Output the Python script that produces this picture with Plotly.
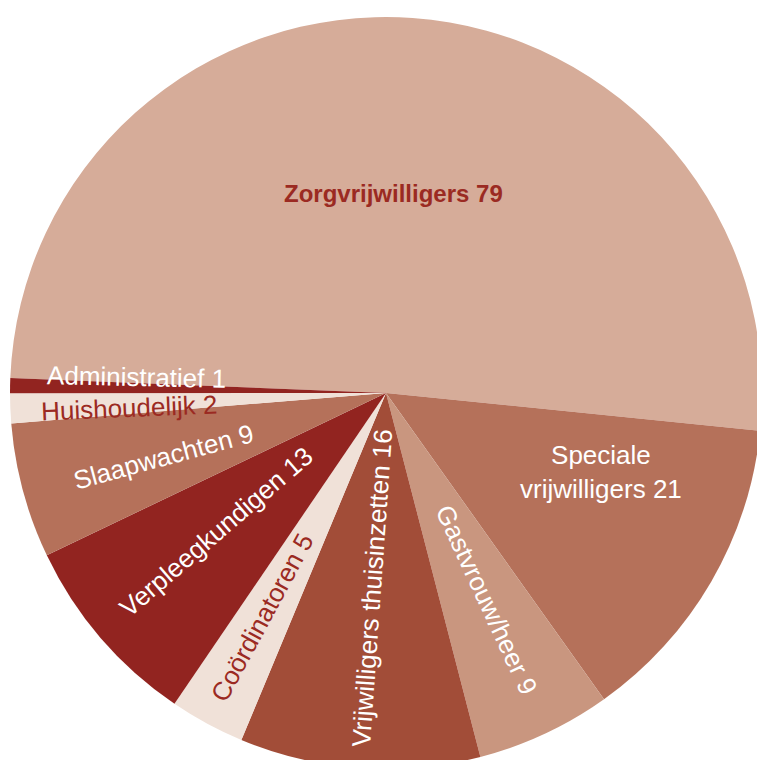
import math
import plotly.graph_objects as go

labels = ["Zorgvrijwilligers", "Speciale<br>vrijwilligers", "Gastvrouw/heer",
          "Vrijwilligers thuisinzetten", "Coördinatoren", "Verpleegkundigen",
          "Slaapwachten", "Huishoudelijk", "Administratief"]
values = [79, 21, 9, 16, 5, 13, 9, 2, 1]

# styles
colors = ["#D6AC99", "#B5715A", "#C9967F", "#A24D38", "#F0E1D8",
          "#922420", "#B5715A", "#F0E1D8", "#922420"]
text_colors = ["#9B2A22", "white", "white", "white", "#9B2A22",
               "white", "white", "#9B2A22", "white"]
orient = ["h", "h", "r", "r", "r", "r", "r", "r", "r"]
label_radius = [0.53, 0.61, 0.612, 0.52, 0.683, 0.584, 0.617, 0.685, 0.666]
angle_nudge = [-2, -10, -1, 0, 0.5, 1.4, -0.9, -0.9, 2.6]
bold = [True, False, False, False, False, False, False, False, False]

W, H = 772, 786
CX, CY, R = 386, 393, 376
ROT = -87.7

fig = go.Figure(go.Pie(
    labels=labels, values=values, sort=False, direction="clockwise",
    rotation=ROT,
    marker=dict(colors=colors, line=dict(width=0)),
    textinfo="none",
    hoverinfo="label+value",
    domain=dict(x=[(CX - R) / W, (CX + R) / W], y=[(H - CY - R) / H, (H - CY + R) / H]),
    showlegend=False,
))

total = sum(values)
cum = 0
for i, (lab, v) in enumerate(zip(labels, values)):
    mid = ROT + (cum + v / 2) / total * 360
    cum += v
    mid_n = mid % 360
    th = mid_n + angle_nudge[i]
    rr = label_radius[i] * R
    px = CX + rr * math.sin(math.radians(th))
    py = CY - rr * math.cos(math.radians(th))
    if orient[i] == "h":
        ang = 0
    elif mid_n < 180:
        ang = mid_n - 90
    else:
        ang = mid_n - 270
    txt = f"{lab} {v}"
    if bold[i]:
        txt = f"<b>{txt}</b>"
    fig.add_annotation(
        x=px / W, y=1 - py / H, xref="paper", yref="paper",
        text=txt, showarrow=False, textangle=ang,
        xanchor="center", yanchor="middle",
        font=dict(family="Liberation Sans, Arial", size=24 if bold[i] else 26,
                  color=text_colors[i]),
    )

fig.update_layout(
    width=W, height=H, margin=dict(l=0, r=0, t=0, b=0),
    paper_bgcolor="white", plot_bgcolor="white",
)
fig.write_html("out.html", config={"displayModeBar": False},
               post_script="document.body.style.margin='0';document.body.style.overflow='hidden';")
